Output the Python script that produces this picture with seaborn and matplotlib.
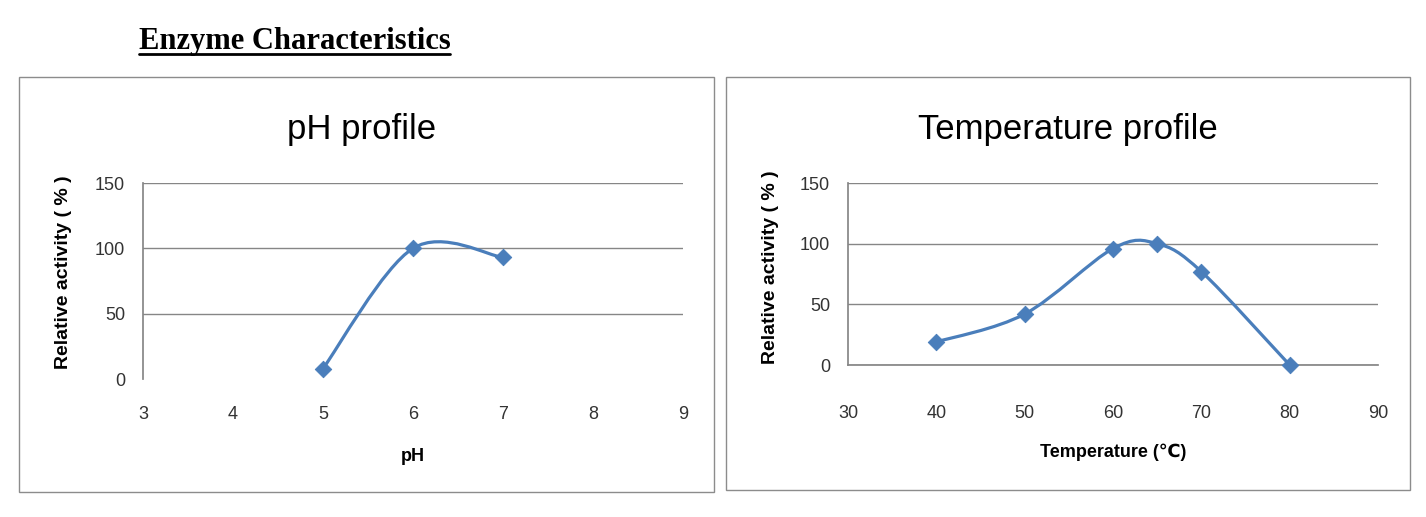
import matplotlib
matplotlib.use('Agg')
import matplotlib.pyplot as plt
import seaborn as sns
import numpy as np
from matplotlib.path import Path
from matplotlib.patches import PathPatch, Rectangle
from matplotlib.lines import Line2D

# data
ph_values = [5, 6, 7]
ph_activity = [8, 100, 93]
temp_values = [40, 50, 60, 65, 70, 80]
temp_activity = [19, 42, 96, 100, 77, 0]

ph_ticks = [3, 4, 5, 6, 7, 8, 9]
temp_ticks = [30, 40, 50, 60, 70, 80, 90]
y_ticks = [0, 50, 100, 150]

line_color = '#4A7EBB'
grid_color = '#868686'
box_color = '#8C8C8C'

sns.set_theme(style="white")
plt.rcParams['font.family'] = ['Liberation Sans', 'DejaVu Sans']
plt.rcParams['text.color'] = 'black'
plt.rcParams['axes.labelcolor'] = 'black'


def smooth_path(x, y):
    # Excel-like smoothed line: Catmull-Rom segments as cubic Bezier curves
    pts = np.column_stack([x, y]).astype(float)
    n = len(pts)
    verts = [pts[0]]
    codes = [Path.MOVETO]
    for i in range(n - 1):
        p0 = pts[max(i - 1, 0)]
        p1 = pts[i]
        p2 = pts[i + 1]
        p3 = pts[min(i + 2, n - 1)]
        verts += [p1 + (p2 - p0) / 6, p2 - (p3 - p1) / 6, p2]
        codes += [Path.CURVE4] * 3
    return Path(verts, codes)


def draw_panel(ax, x, y, xticks, xlabel, xlab_y, xpad, bottom_line):
    ax.add_patch(PathPatch(smooth_path(x, y), facecolor='none',
                           edgecolor=line_color, lw=2.3, zorder=3,
                           capstyle='round', joinstyle='round'))
    sns.scatterplot(x=x, y=y, ax=ax, marker='D', s=70, color=line_color,
                    edgecolor=line_color, zorder=4, legend=False, clip_on=False)
    ax.set_xlim(xticks[0], xticks[-1])
    ax.set_ylim(0, 150)
    ax.set_xticks(xticks)
    ax.set_yticks(y_ticks)
    ax.yaxis.grid(True, color=grid_color, lw=1)
    ax.xaxis.grid(False)
    for s in ['top', 'right']:
        ax.spines[s].set_visible(False)
    ax.spines['left'].set_color(grid_color)
    ax.spines['bottom'].set_color(grid_color)
    ax.spines['bottom'].set_visible(bottom_line)
    if not bottom_line:
        ax.get_ygridlines()[0].set_visible(False)
    ax.tick_params(axis='x', length=0, pad=xpad, labelsize=13, labelcolor='#333333')
    ax.tick_params(axis='y', length=0, pad=13, labelsize=13, labelcolor='#333333')
    ax.set_xlabel(xlabel, fontsize=13, fontweight='bold')
    ax.set_ylabel('Relative activity ( % )', fontsize=14, fontweight='bold')
    ax.xaxis.set_label_coords(0.5, xlab_y)


fig = plt.figure(figsize=(14.26, 5.17), dpi=100)
W, H = 1426, 517

# panel frames
fig.patches.append(Rectangle((19 / W, 1 - 492 / H), 695 / W, 415 / H,
                             transform=fig.transFigure, fill=False,
                             edgecolor=box_color, lw=1))
fig.patches.append(Rectangle((726 / W, 1 - 490 / H), 684 / W, 413 / H,
                             transform=fig.transFigure, fill=False,
                             edgecolor=box_color, lw=1))

ax1 = fig.add_axes([143 / W, 1 - 379 / H, 540 / W, 196 / H])
ax2 = fig.add_axes([848 / W, 1 - 365 / H, 530 / W, 182 / H])

draw_panel(ax1, ph_values, ph_activity, ph_ticks, 'pH', -0.35, 19.5, False)
draw_panel(ax2, temp_values, temp_activity, temp_ticks, 'Temperature (\u2103)',
           -0.43, 29, True)

ax1.yaxis.set_label_coords(-0.132, 0.545)
ax2.yaxis.set_label_coords(-0.13, 0.54)

# panel titles, centred in the frames above the plot areas
fig.text(362 / W, 1 - 129 / H, 'pH profile', fontsize=25, ha='center', va='center')
fig.text(1068 / W, 1 - 129 / H, 'Temperature profile', fontsize=25, ha='center', va='center')

# underlined header
fig.text(139 / W, 1 - 41 / H, 'Enzyme Characteristics', fontsize=22,
         fontweight='bold', family=['Liberation Serif', 'DejaVu Serif'],
         ha='left', va='center')
fig.add_artist(Line2D([139 / W, 450 / W], [1 - 54 / H, 1 - 54 / H],
                      transform=fig.transFigure, color='black', lw=2))

plt.savefig('out.png', dpi=100)
plt.close()
